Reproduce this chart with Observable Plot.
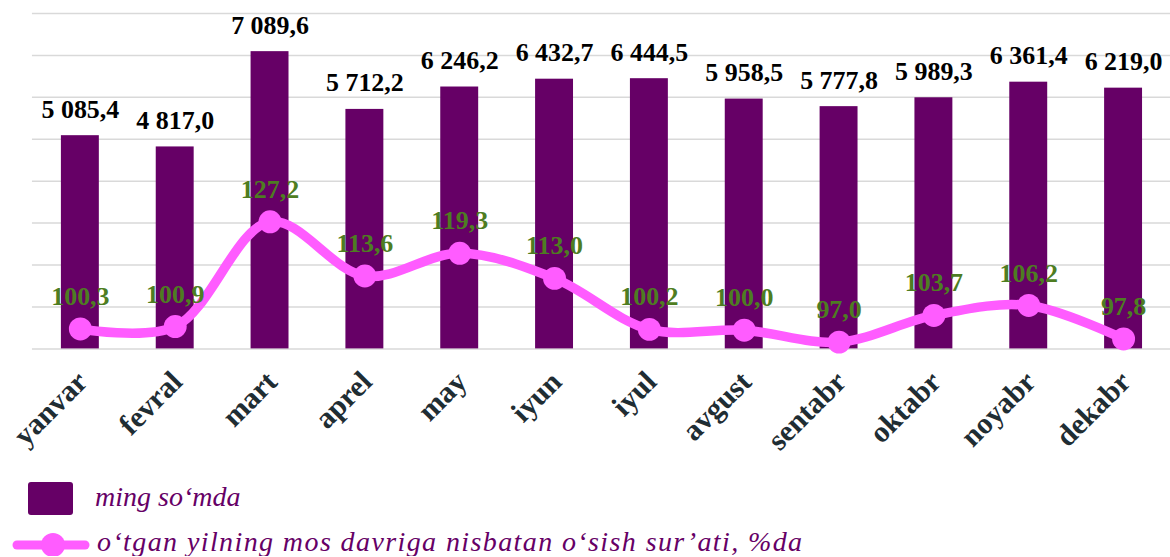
<!DOCTYPE html>
<html>
<head>
<meta charset="utf-8">
<script src="https://cdn.jsdelivr.net/npm/d3@7"></script>
<script src="https://cdn.jsdelivr.net/npm/@observablehq/plot@0.6"></script>
<style>
  html, body { margin: 0; padding: 0; background: #fff; overflow: hidden; }
  #chart svg { display: block; }
</style>
</head>
<body>
<div id="chart"></div>
<script>
const months = ["yanvar", "fevral", "mart", "aprel", "may", "iyun", "iyul", "avgust", "sentabr", "oktabr", "noyabr", "dekabr"];
const values = [5085.4, 4817.0, 7089.6, 5712.2, 6246.2, 6432.7, 6444.5, 5958.5, 5777.8, 5989.3, 6361.4, 6219.0];
const growth = [100.3, 100.9, 127.2, 113.6, 119.3, 113.0, 100.2, 100.0, 97.0, 103.7, 106.2, 97.8];
const seriesNames = ["ming so‘mda", "o‘tgan yilning mos davriga nisbatan o‘sish sur’ati, %da"];
const yTicks = [0, 1000, 2000, 3000, 4000, 5000, 6000, 7000, 8000];

const barColor = "#660066";
const lineColor = "#ff5cff";
const greenColor = "#4e7d22";

// secondary (hidden) axis for growth rate, mapped onto the primary scale
const pctMin = 95.3, pctMax = 179.5;
const toPrimary = v => (v - pctMin) / (pctMax - pctMin) * 8000;

const loc = d3.formatLocale({decimal: ",", thousands: " ", grouping: [3]});
const fmtVal = loc.format(",.1f");
const fmtPct = loc.format(".1f");

const data = months.map((m, i) => ({month: m, value: values[i], growth: growth[i]}));

const W = 1172, H = 474;
const chart = Plot.plot({
  width: W,
  height: H,
  marginLeft: 32,
  marginRight: 0,
  marginTop: 13,
  marginBottom: H - 349,
  style: {fontFamily: "'Liberation Serif', serif", background: "white"},
  x: {domain: months, paddingInner: 0.6, paddingOuter: 0.3, label: null},
  y: {domain: [0, 8000], axis: null},
  marks: [
    Plot.ruleY(yTicks, {stroke: "#d9d9d9", strokeWidth: 1.5}),
    Plot.barY(data, {x: "month", y: "value", fill: barColor}),
    Plot.text(data, {
      x: "month", y: "value", text: d => fmtVal(d.value),
      dy: -18, lineAnchor: "bottom", fontSize: 26, fontWeight: "bold", fill: "#000"
    }),
    Plot.line(data, {
      x: "month", y: d => toPrimary(d.growth), stroke: lineColor, strokeWidth: 9.5,
      curve: "catmull-rom"
    }),
    Plot.dot(data, {x: "month", y: d => toPrimary(d.growth), r: 11.5, fill: lineColor}),
    Plot.text(data, {
      x: "month", y: d => toPrimary(d.growth), text: d => fmtPct(d.growth),
      dy: -24, lineAnchor: "bottom", fontSize: 26, fontWeight: "bold", fill: greenColor
    }),
    Plot.axisX({
      tickRotate: -45, tickSize: 0, tickPadding: 28, dx: 2, label: null,
      fontSize: 30, fontWeight: "bold", fill: "#1f2d33"
    })
  ]
});
document.getElementById("chart").appendChild(chart);

// legend below the plot
const leg = d3.select("#chart").append("svg")
  .attr("width", 1170).attr("height", 83)
  .style("display", "block");

leg.append("rect")
  .attr("x", 28).attr("y", 9).attr("width", 45).attr("height", 33)
  .attr("rx", 3).attr("fill", barColor);
leg.append("text")
  .attr("x", 95).attr("y", 33)
  .attr("font-family", "'Liberation Serif', serif")
  .attr("font-style", "italic").attr("font-size", 28)
  .attr("fill", barColor)
  .text(seriesNames[0]);

leg.append("line")
  .attr("x1", 17).attr("x2", 85).attr("y1", 72).attr("y2", 72)
  .attr("stroke", lineColor).attr("stroke-width", 9).attr("stroke-linecap", "round");
leg.append("circle")
  .attr("cx", 53).attr("cy", 72).attr("r", 12).attr("fill", lineColor);
leg.append("text")
  .attr("x", 97).attr("y", 78)
  .attr("font-family", "'Liberation Serif', serif")
  .attr("font-style", "italic").attr("font-size", 28)
  .attr("letter-spacing", 1.4)
  .attr("fill", barColor)
  .text(seriesNames[1]);
</script>
</body>
</html>
